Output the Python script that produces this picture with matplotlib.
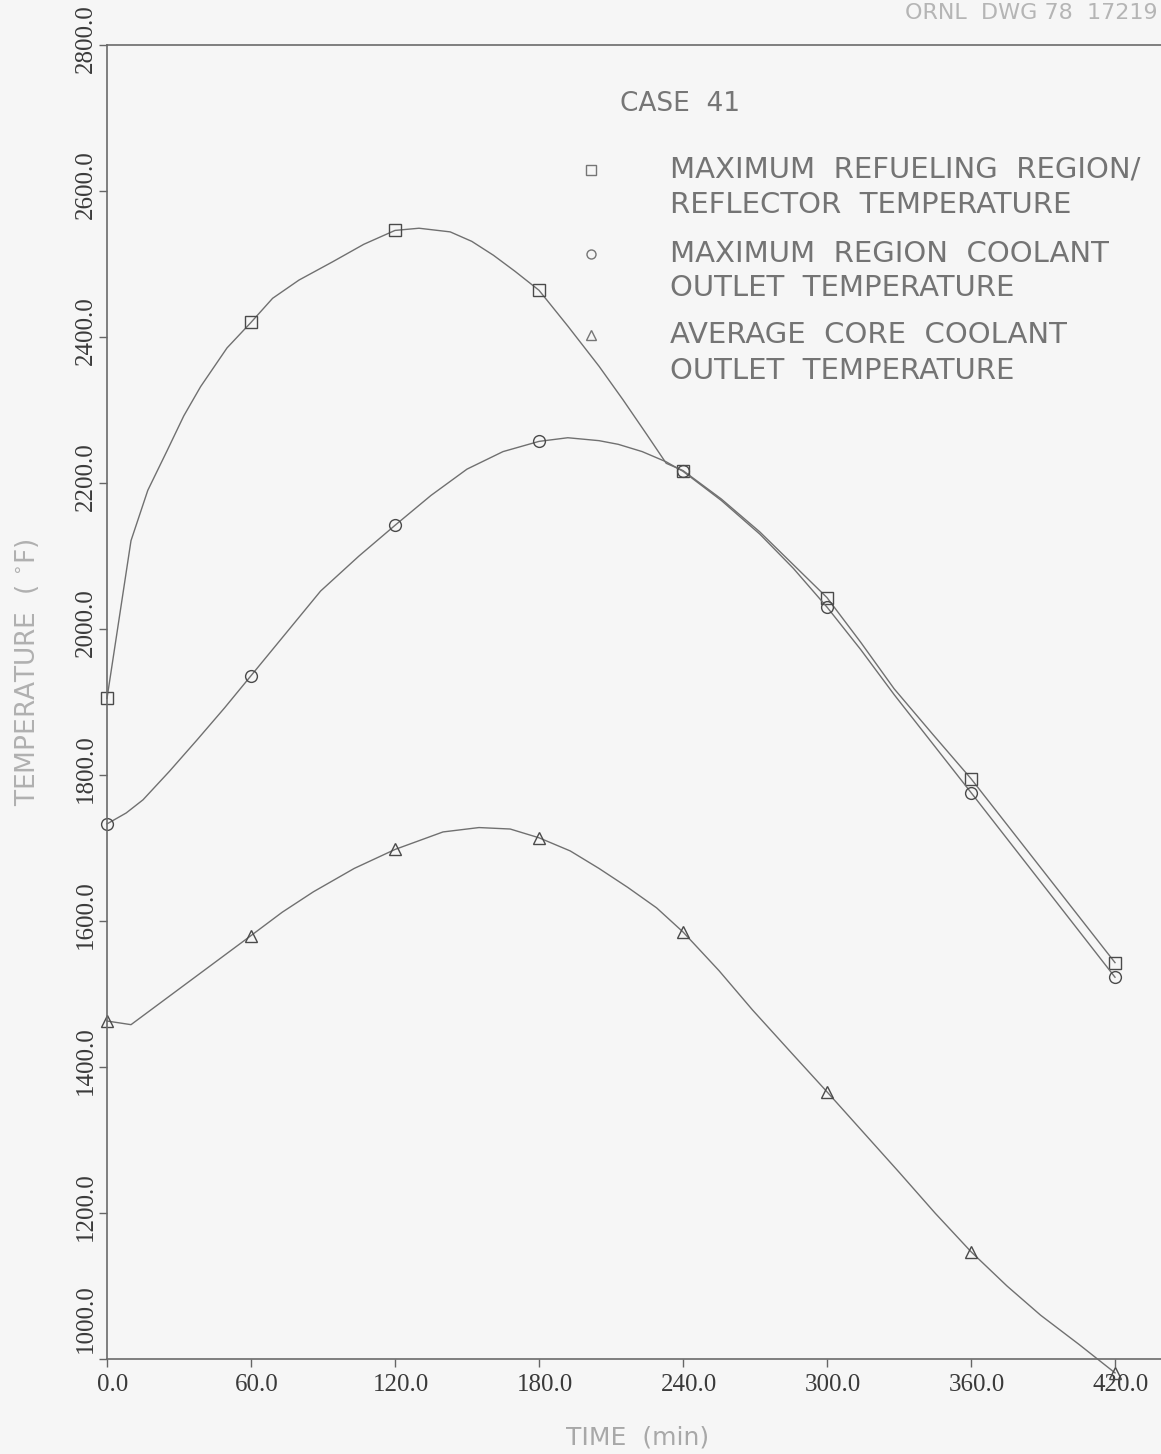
import matplotlib
matplotlib.use('Agg')
import matplotlib.pyplot as plt
import matplotlib.transforms as mtransforms

# marker values, every 60 min
time_marks = [0, 60, 120, 180, 240, 300, 360, 420]
refuel_marks = [1905, 2420, 2546, 2464, 2217, 2043, 1795, 1543]
coolant_marks = [1733, 1936, 2142, 2257, 2216, 2030, 1776, 1523]
avg_marks = [1463, 1580, 1698, 1714, 1585, 1366, 1147, 981]

# curve traces
refuel_t = [0, 10, 17, 25, 32, 39, 50, 60, 69, 80, 94, 107, 120, 130, 143, 152, 161, 170, 180,
            192, 205, 215, 225, 233, 240, 256, 272, 286, 300, 314, 328, 344, 360, 420]
refuel_T = [1905, 2121, 2190, 2244, 2292, 2332, 2385, 2420, 2453, 2478, 2503, 2527, 2546, 2549, 2544,
            2531, 2512, 2490, 2464, 2415, 2360, 2314, 2266, 2227, 2217, 2178, 2133, 2088, 2043, 1982,
            1918, 1856, 1795, 1543]
coolant_t = [0, 8, 15, 26, 37.5, 49, 60, 75, 89, 105, 120, 135, 150, 165, 180, 192, 205, 213, 223,
             233, 240, 256, 272, 286, 300, 314, 328, 344, 360, 420]
coolant_T = [1733, 1748, 1766, 1805, 1848, 1892, 1936, 1996, 2052, 2100, 2142, 2183, 2219, 2243, 2257,
             2262, 2258, 2253, 2243, 2229, 2216, 2176, 2130, 2083, 2030, 1972, 1910, 1843, 1776, 1523]
avg_t = [0, 10, 60, 73, 86, 103, 120, 140, 155, 168, 180, 193, 205, 217, 229, 240, 255, 269, 285,
         300, 315, 330, 345, 360, 375, 389, 405, 420]
avg_T = [1463, 1458, 1580, 1612, 1640, 1672, 1698, 1722, 1728, 1726, 1714, 1696, 1672, 1646, 1618,
         1585, 1532, 1478, 1420, 1366, 1311, 1256, 1200, 1147, 1100, 1060, 1020, 981]

xticks = [0, 60, 120, 180, 240, 300, 360, 420]
yticks = [1000, 1200, 1400, 1600, 1800, 2000, 2200, 2400, 2600, 2800]

legend_lines = [
    ('s', 'MAXIMUM  REFUELING  REGION/', 'REFLECTOR  TEMPERATURE'),
    ('o', 'MAXIMUM  REGION  COOLANT', 'OUTLET  TEMPERATURE'),
    ('^', 'AVERAGE  CORE  COOLANT', 'OUTLET  TEMPERATURE'),
]

BG = '#f6f6f6'
TICK_FONT = ['Liberation Serif', 'DejaVu Serif']


def main():
    fig = plt.figure(figsize=(11.61, 14.54), dpi=100, facecolor=BG)
    # axes from x=107px to the right edge, y from 45px to 1359px
    ax = fig.add_axes([107 / 1161, 95 / 1454, 1054 / 1161, 1314 / 1454])
    ax.set_facecolor(BG)

    for t, T, mt, mT, mk in [
        (refuel_t, refuel_T, time_marks, refuel_marks, 's'),
        (coolant_t, coolant_T, time_marks, coolant_marks, 'o'),
        (avg_t, avg_T, time_marks, avg_marks, '^'),
    ]:
        ax.plot(t, T, color='#707070', lw=1.0, clip_on=False)
        ax.plot(mt, mT, ls='none', marker=mk, ms=8.5, mfc='none', mec='#4a4a4a', mew=1.0, clip_on=False)

    ax.set_xlim(0, 1054 / 144 * 60)
    ax.set_ylim(1000, 2800)
    ax.set_xticks(xticks)
    ax.set_yticks(yticks)
    ax.set_xticklabels([f'{v:.1f}' for v in xticks])
    ax.set_yticklabels([f'{v:.1f}' for v in yticks], rotation=90, va='center')

    for side in ['left', 'bottom', 'top']:
        ax.spines[side].set_color('#6a6a6a')
        ax.spines[side].set_linewidth(1.2)
    ax.spines['right'].set_visible(False)

    ax.tick_params(direction='out', length=6, width=1, color='#666666', labelcolor='#3a3a3a', labelsize=18)
    ax.tick_params(axis='y', pad=1)
    ax.tick_params(axis='x', pad=5)
    xshift = mtransforms.ScaledTranslation(6 / 100, 0, fig.dpi_scale_trans)
    yshift = mtransforms.ScaledTranslation(0, 6 / 100, fig.dpi_scale_trans)
    for lab in ax.get_xticklabels():
        lab.set_family(TICK_FONT)
        lab.set_transform(lab.get_transform() + xshift)
    ylabs = ax.get_yticklabels()
    for lab in ylabs:
        lab.set_family(TICK_FONT)
        lab.set_transform(lab.get_transform() + yshift)
    # bottom label sits above the time axis
    ylabs[0].set_va('bottom')

    # axis titles
    fig.text(638 / 1161, 1 - 1437 / 1454, 'TIME  (min)', ha='center', va='center',
             fontsize=18, color='#a8a8a8', family='DejaVu Sans')
    fig.text(27 / 1161, 1 - 672 / 1454, r'TEMPERATURE  ( $^{\circ}$F)', ha='center', va='center',
             rotation=90, fontsize=19, color='#b0b0b0', family='DejaVu Sans')

    # drawing number at the top edge
    fig.text(1158 / 1161, 1 - 19 / 1454, 'ORNL  DWG 78  17219', ha='right', va='baseline',
             fontsize=16, color='#b5b5b5', family='DejaVu Sans')

    # key
    ax.text(0.487, 0.955, 'CASE  41', transform=ax.transAxes, ha='left', va='center',
            fontsize=19, color='#767676', family='DejaVu Sans')
    key_y = [(0.905, 0.878), (0.841, 0.815), (0.779, 0.752)]
    for (mk, l1, l2), (y1, y2) in zip(legend_lines, key_y):
        ax.plot([0.459], [y1], transform=ax.transAxes, ls='none', marker=mk, ms=6.5,
                mfc='none', mec='#757575', mew=1.0, clip_on=False)
        ax.text(0.534, y1, l1, transform=ax.transAxes, ha='left', va='center',
                fontsize=21, color='#747474', family='DejaVu Sans')
        ax.text(0.534, y2, l2, transform=ax.transAxes, ha='left', va='center',
                fontsize=21, color='#747474', family='DejaVu Sans')

    fig.savefig('out.png', dpi=100, facecolor=BG)


if __name__ == '__main__':
    main()
